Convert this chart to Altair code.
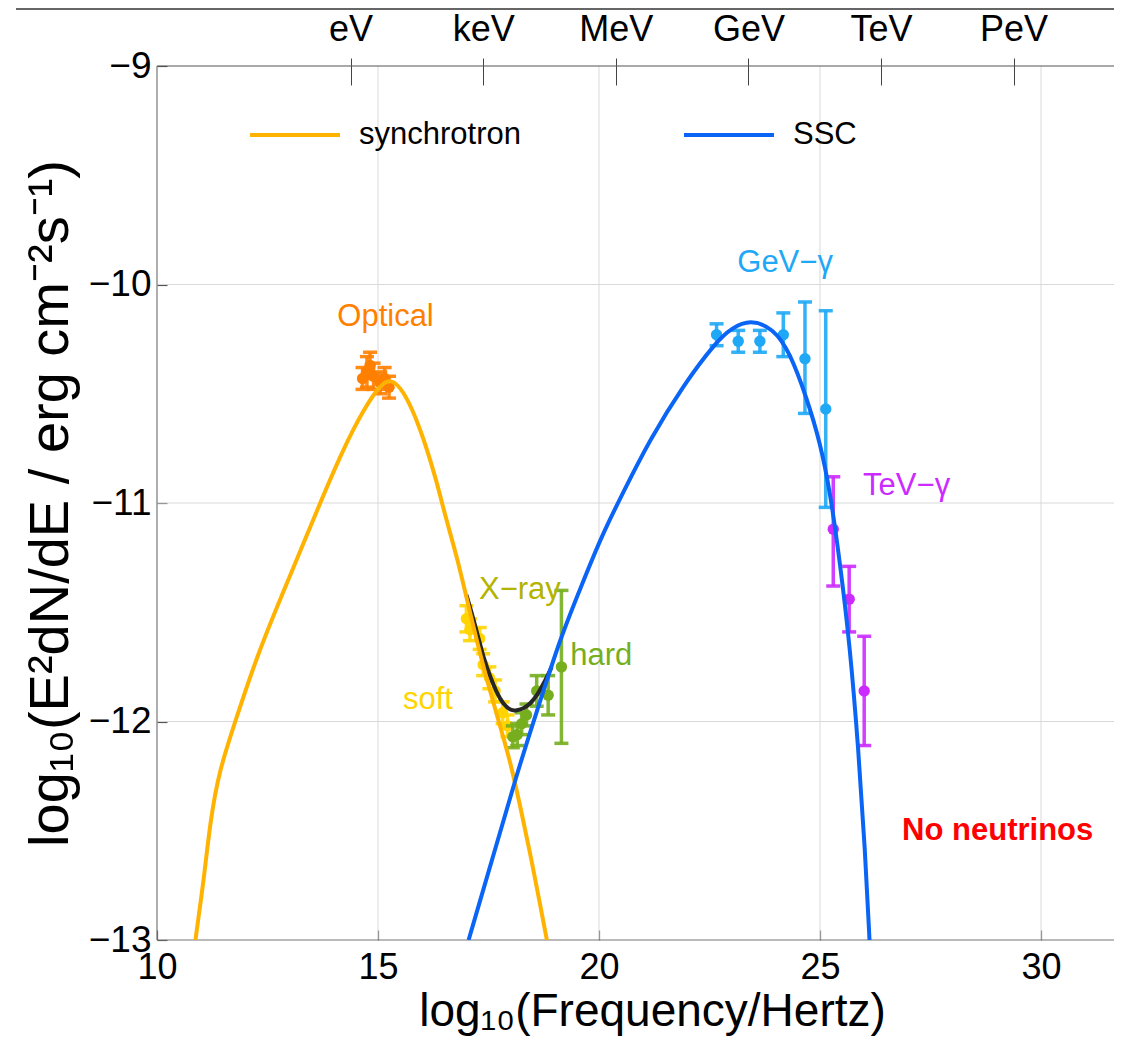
import altair as alt
import pandas as pd

FONT = "Liberation Sans"

# ---------------- model curves: log10(nu/Hz) , log10(E^2 dN/dE) ----------------
sync_x = [10.87, 10.95, 11.06, 11.21, 11.40, 11.77, 12.26, 12.87, 13.20, 13.69, 14.22, 14.68,
          15.05, 15.28, 15.57, 15.95, 16.33, 16.52, 16.78, 17.08, 17.38, 17.69, 17.99, 18.21,
          18.44, 18.67, 18.82]
sync_y = [-13.0, -12.88, -12.72, -12.45, -12.23, -12.0, -11.70, -11.40, -11.24, -11.0, -10.75,
          -10.57, -10.46, -10.43, -10.48, -10.65, -10.90, -11.06, -11.24, -11.50, -11.75, -11.97,
          -12.18, -12.38, -12.60, -12.84, -13.0]

ssc_x = [17.05, 17.6, 18.14, 18.6, 19.12, 19.6, 20.06, 20.55, 21.15, 21.91, 22.66, 23.0, 23.42,
         23.94, 24.32, 24.70, 25.0, 25.23, 25.45, 25.68, 25.87, 26.02, 26.12]
ssc_y = [-13.0, -12.62, -12.24, -11.95, -11.62, -11.38, -11.15, -10.95, -10.71, -10.46, -10.26,
         -10.20, -10.16, -10.20, -10.31, -10.52, -10.72, -10.95, -11.27, -11.66, -12.13, -12.59,
         -13.0]

tot_x = [17.0, 17.2, 17.4, 17.55, 17.69, 17.83, 18.0, 18.14, 18.3, 18.44, 18.6, 18.74, 18.93]
tot_y = [-11.42, -11.56, -11.72, -11.80, -11.87, -11.92, -11.95, -11.95, -11.94, -11.92, -11.88,
         -11.83, -11.75]

# ---------------- data points ----------------
opt_x = [14.65, 14.75, 14.82, 14.90, 15.05, 15.15, 15.25]
opt_y = [-10.43, -10.40, -10.37, -10.42, -10.45, -10.43, -10.47]
opt_e = [0.05, 0.07, 0.06, 0.06, 0.05, 0.05, 0.05]

soft_x = [17.00, 17.08, 17.30, 17.38, 17.52, 17.65, 17.82, 17.93]
soft_y = [-11.53, -11.58, -11.62, -11.74, -11.80, -11.86, -11.96, -12.02]
soft_e = [0.06, 0.05, 0.05, 0.05, 0.05, 0.05, 0.05, 0.05]

hard_x = [18.05, 18.15, 18.25, 18.36, 18.59, 18.85, 19.15]
hard_y = [-12.07, -12.06, -12.01, -11.97, -11.86, -11.88, -11.75]
hard_e = [0.05, 0.05, 0.05, 0.05, 0.07, 0.09, 0.35]

gev_x = [22.66, 23.15, 23.64, 24.17, 24.66, 25.13]
gev_y = [-10.23, -10.26, -10.26, -10.23, -10.34, -10.57]
gev_lo = [-10.28, -10.31, -10.31, -10.33, -10.59, -11.02]
gev_hi = [-10.18, -10.21, -10.21, -10.13, -10.08, -10.12]

tev_x = [25.30, 25.66, 26.00]
tev_y = [-11.12, -11.44, -11.86]
tev_lo = [-11.38, -11.59, -12.11]
tev_hi = [-10.88, -11.29, -11.61]

# ---------------- annotations ----------------
ann_text = ["Optical", "X\u2212ray", "soft", "hard", "GeV\u2212\u03b3", "TeV\u2212\u03b3"]
ann_x = [15.17, 18.21, 16.13, 20.05, 24.21, 26.96]
ann_y = [-10.15, -11.40, -11.90, -11.70, -9.90, -10.92]
ann_col = ["#FF7F00", "#B4B400", "#FFD400", "#76AE1E", "#1FA8F5", "#CC2BFF"]

note_text = ["No neutrinos"]
note_x = [29.02]
note_y = [-12.50]

# ---------------- axes ticks ----------------
x_ticks = [10, 15, 20, 25, 30]
y_ticks = [-13, -12, -11, -10, -9]
grid_x = [15, 20, 25, 30]
grid_y = [-12, -11, -10]
e_pos = [14.38, 17.38, 20.38, 23.38, 26.38, 29.38]
e_lab = ["eV", "keV", "MeV", "GeV", "TeV", "PeV"]

series_names = ["synchrotron", "SSC"]
SYNC_C = "#FFB300"
SSC_C = "#0A64F5"

W, H = 957, 874
XMAX = 10 + W / 44.2

xs = alt.Scale(domain=[10, XMAX], nice=False, zero=False)
ys = alt.Scale(domain=[-13, -9], nice=False, zero=False)


def X(field):
    return alt.X(f"{field}:Q", scale=xs, axis=None)


def Y(field):
    return alt.Y(f"{field}:Q", scale=ys, axis=None)


layers = []

# grid + bottom axis
bottom_axis = alt.Axis(values=x_ticks, tickSize=10, offset=-10, domain=False, grid=False,
                       labelFontSize=36, labelPadding=10, labelFlush=False, tickColor="#555",
                       tickWidth=1.2, labelColor="black", title="log\u2081\u2080(Frequency/Hertz)",
                       titleFontSize=46, titleFontWeight="normal", titleColor="black",
                       titlePadding=4, titleX=495, format="d")
layers.append(
    alt.Chart(pd.DataFrame({"g": grid_x})).mark_rule(color="#d9d9d9", strokeWidth=1).encode(
        x=alt.X("g:Q", scale=xs, axis=bottom_axis))
)
left_axis = alt.Axis(values=y_ticks, tickSize=10, offset=-10, domain=False, grid=False,
                     labelFontSize=37, labelPadding=6, labelFlush=False, tickColor="#555",
                     tickWidth=1.2, labelColor="black",
                     title="log\u2081\u2080(E\u00b2dN/dE / erg cm\u207b\u00b2s\u207b\u00b9)",
                     titleFontSize=56, titleFontWeight="normal", titleColor="black",
                     titlePadding=9, format="d")
layers.append(
    alt.Chart(pd.DataFrame({"g": grid_y})).mark_rule(color="#d9d9d9", strokeWidth=1).encode(
        y=alt.Y("g:Q", scale=ys, axis=left_axis))
)

# top energy axis
lab_arr = "[" + ",".join(f"'{s}'" for s in e_lab) + "]"
top_axis = alt.Axis(orient="top", values=e_pos, tickSize=27, offset=-19, domain=False,
                    grid=False, labelFontSize=36, labelPadding=10, labelFlush=False,
                    labelOverlap=False, tickColor="#444", labelColor="black", title=None,
                    labelExpr=f"{lab_arr}[round((datum.value - {e_pos[0]}) / 3)]")
layers.append(
    alt.Chart(pd.DataFrame({"e": e_pos})).mark_point(opacity=0).encode(
        x=alt.X("e:Q", scale=xs, axis=top_axis), y=alt.value(0))
)

# frame
one = alt.Data(values=[{}])
layers.append(alt.Chart(one).mark_rule(color="#777", strokeWidth=1.2).encode(x=alt.value(0)))
layers.append(alt.Chart(one).mark_rule(color="#555", strokeWidth=1.2).encode(y=alt.value(0)))
layers.append(alt.Chart(one).mark_rule(color="#777", strokeWidth=1.2).encode(y=alt.value(H)))
layers.append(alt.Chart(one).mark_rule(color="#333", strokeWidth=1.5).encode(
    x=alt.value(-141), x2=alt.value(W + 10), y=alt.value(-57)))

# data points with error bars (drawn below the model curves)
sets = [
    (opt_x, opt_y, [a - e for a, e in zip(opt_y, opt_e)], [a + e for a, e in zip(opt_y, opt_e)], "#FF7F00"),
    (soft_x, soft_y, [a - e for a, e in zip(soft_y, soft_e)], [a + e for a, e in zip(soft_y, soft_e)], "#FFD400"),
    (hard_x, hard_y, [a - e for a, e in zip(hard_y, hard_e)], [a + e for a, e in zip(hard_y, hard_e)], "#76AE1E"),
    (gev_x, gev_y, gev_lo, gev_hi, "#1FA8F5"),
    (tev_x, tev_y, tev_lo, tev_hi, "#CC2BFF"),
]
for xv, yv, lo, hi, col in sets:
    df = pd.DataFrame({"x": xv, "y": yv, "lo": lo, "hi": hi})
    base = alt.Chart(df)
    layers.append(base.mark_rule(color=col, strokeWidth=3.5, opacity=0.9).encode(
        x=X("x"), y=Y("lo"), y2="hi"))
    layers.append(base.mark_tick(color=col, orient="horizontal", thickness=3.5, size=14,
                                 opacity=0.9).encode(x=X("x"), y=Y("lo")))
    layers.append(base.mark_tick(color=col, orient="horizontal", thickness=3.5, size=14,
                                 opacity=0.9).encode(x=X("x"), y=Y("hi")))
    layers.append(base.mark_circle(color=col, size=130, opacity=1).encode(x=X("x"), y=Y("y")))

# total curve
layers.append(
    alt.Chart(pd.DataFrame({"x": tot_x, "y": tot_y})).mark_line(
        color="#262626", strokeWidth=4, clip=True, interpolate="basis").encode(
        x=X("x"), y=Y("y"))
)

# synchrotron + SSC
curves = pd.DataFrame({
    "x": sync_x + ssc_x,
    "y": sync_y + ssc_y,
    "s": [series_names[0]] * len(sync_x) + [series_names[1]] * len(ssc_x),
})
legend = alt.Legend(orient="none", legendX=91, legendY=22, direction="horizontal", title=None,
                    symbolType="stroke", symbolSize=8100, symbolStrokeWidth=4,
                    labelFontSize=31, labelFont=FONT, labelColor="black", labelOffset=17,
                    columnPadding=155, labelLimit=400)
layers.append(
    alt.Chart(curves).mark_line(strokeWidth=4, clip=True, interpolate="basis").encode(
        x=X("x"), y=Y("y"),
        color=alt.Color("s:N", scale=alt.Scale(domain=series_names, range=[SYNC_C, SSC_C]),
                        legend=legend))
)

# annotations
for t, xv, yv, c in zip(ann_text, ann_x, ann_y, ann_col):
    layers.append(
        alt.Chart(pd.DataFrame({"x": [xv], "y": [yv], "t": [t]})).mark_text(
            font=FONT, fontSize=31, color=c, align="center", baseline="middle").encode(
            x=X("x"), y=Y("y"), text="t:N")
    )
layers.append(
    alt.Chart(pd.DataFrame({"x": note_x, "y": note_y, "t": note_text})).mark_text(
        font=FONT, fontSize=31, fontWeight="bold", color="#FF0000", align="center",
        baseline="middle").encode(x=X("x"), y=Y("y"), text="t:N")
)

chart = alt.layer(*layers).resolve_axis(x="independent", y="independent").properties(
    width=W, height=H,
    padding={"left": 149, "top": 58, "right": 0, "bottom": 100},
    autosize=alt.AutoSizeParams(type="none"),
    background="white",
).configure_view(stroke=None).configure_axis(labelFont=FONT, titleFont=FONT)

chart.save("out.html", embed_options={"renderer": "svg", "actions": False})
